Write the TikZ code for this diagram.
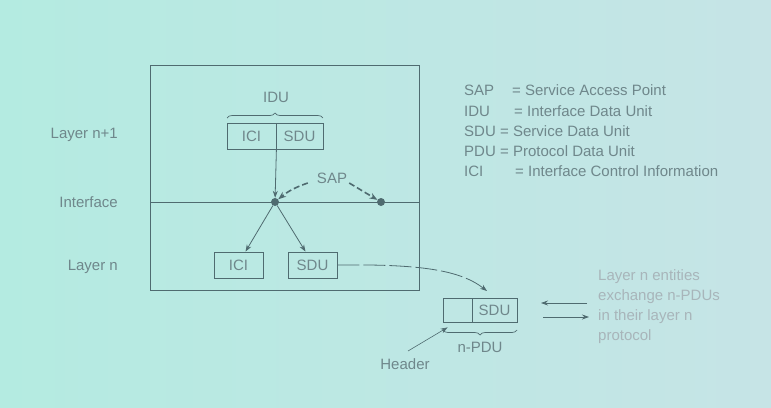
\documentclass[tikz,border=0pt]{standalone}
\usepackage{fontspec}
\setmainfont{Liberation Sans}
\usetikzlibrary{arrows.meta,decorations.pathreplacing,calc}
\definecolor{bgleft}{HTML}{B4EBE1}
\definecolor{bgright}{HTML}{C6E4E6}
\definecolor{inkline}{HTML}{4F6B70}
\definecolor{inktext}{HTML}{6F878B}
\definecolor{inkpale}{HTML}{A8B5BA}
\begin{document}
\begin{tikzpicture}[x=1pt,y=-1pt,
  font=\fontsize{15}{20}\selectfont,
  txt/.style={text=inktext, inner sep=0pt},
  unit/.style={rectangle, draw=inkline, line width=0.8pt, text=inktext, inner sep=0pt, minimum height=26pt},
  sapdot/.style={circle, fill=inkline, inner sep=0pt, minimum size=8pt},
  arr/.style={draw=inkline, line width=0.8pt, -{Stealth[length=7pt,width=5pt]}},
  saparr/.style={draw=inkline, line width=1.6pt, dash pattern=on 6pt off 3pt, -{Stealth[length=8pt,width=6pt]}},
  brc/.style={draw=inkline, line width=0.7pt, decorate, decoration={brace, amplitude=5pt}}]
% background
\shade[left color=bgleft, right color=bgright] (0,0) rectangle (771,407);
\useasboundingbox (0,0) rectangle (771,407);
% the two layers
\draw[inkline, line width=0.9pt] (150,65) rectangle (419,290);
\draw[inkline, line width=0.9pt] (150,202) -- (419,202);
\node [txt, anchor=east] (lup) at (118,135) {Layer n+1};
\node [txt, anchor=east] (lif) at (118,202) {Interface};
\node [txt, anchor=east] (llow) at (118,267) {Layer n};
% IDU in layer n+1
\node [unit, minimum width=49pt] (iciup) at (251.5,136.5) {ICI};
\node [unit, minimum width=47pt] (sduup) at (299.5,136.5) {SDU};
\draw [brc] (227,118) -- (323,118);
\node [txt] (idu) at (276,97) {IDU};
% service access points
\node [sapdot] (sapa) at (275,202) {};
\node [sapdot] (sapb) at (381,202) {};
\node [txt] (sap) at (332,178) {SAP};
\draw [arr] (iciup.south east) -- (sapa);
\draw [saparr] ([shift={(-9pt,-5pt)}]sap.west) to[bend right=10] (sapa);
\draw [saparr] ([shift={(2pt,-5pt)}]sap.east) -- (sapb);
% ICI and SDU in layer n
\node [unit, minimum width=49pt] (icilow) at (238.5,265) {ICI};
\node [unit, minimum width=49pt] (sdulow) at (312.5,265) {SDU};
\draw [arr] (sapa) -- ([xshift=7pt]icilow.north);
\draw [arr] (sapa) -- ([xshift=-7pt]sdulow.north);
% n-PDU
\node [unit, minimum width=29pt, minimum height=24pt] (hdr) at (457.5,310) {};
\node [unit, minimum width=45pt, minimum height=24pt] (sdupdu) at (494.5,310) {SDU};
\coordinate (pdutop) at (487,291);
\draw [arr, dash pattern=on 22pt off 4pt] (sdulow.east) .. controls (420,264) and (460,270) .. (pdutop);
\draw [brc] (517,330) -- (443,330);
\node [txt] (npdu) at (480,347) {n-PDU};
\node [txt] (header) at (405,364) {Header};
\draw [arr, line width=0.6pt] (408,351) -- ([shift={(5pt,-5pt)}]hdr.south west);
% peer exchange
\coordinate (xa) at (587,303);
\coordinate (xb) at (541,303);
\coordinate (xc) at (543,317);
\coordinate (xd) at (589,317);
\draw [arr] (xa) -- (xb);
\draw [arr] (xc) -- (xd);
\node [txt, text=inkpale, anchor=north west, align=left] (note) at (598,269) {Layer n entities\\exchange n-PDUs\\in their layer n\\protocol};
% legend
\node [txt, anchor=west] (k1) at (464,90) {SAP};
\node [txt, anchor=west] (d1) at (512,90) {= Service Access Point};
\node [txt, anchor=west] (k2) at (464,111) {IDU};
\node [txt, anchor=west] (d2) at (514,111) {= Interface Data Unit};
\node [txt, anchor=west] (k3) at (464,131) {SDU};
\node [txt, anchor=west] (d3) at (500,131) {= Service Data Unit};
\node [txt, anchor=west] (k4) at (464,151) {PDU};
\node [txt, anchor=west] (d4) at (500,151) {= Protocol Data Unit};
\node [txt, anchor=west] (k5) at (464,171) {ICI};
\node [txt, anchor=west] (d5) at (515,171) {= Interface Control Information};
\end{tikzpicture}
\end{document}
